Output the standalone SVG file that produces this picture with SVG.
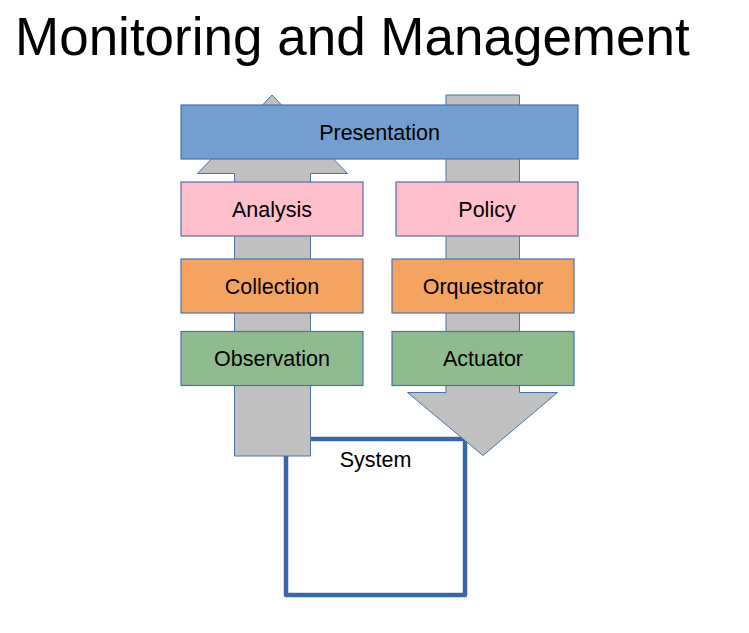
<svg xmlns="http://www.w3.org/2000/svg" width="749" height="633" viewBox="0 0 749 633">
<style>
text{font-family:"Liberation Sans",Arial,sans-serif;fill:#000}
.lbl{font-size:21.5px;text-anchor:middle}
.box{stroke:#4a72ad;stroke-width:1.2}
.arrow{fill:#c0c0c0;stroke:#4a72ad;stroke-width:1}
</style>
<rect width="749" height="633" fill="#fff"/>
<text x="15" y="55" font-size="53">Monitoring and Management</text>
<g id="system">
<rect x="286" y="439" width="179" height="156" fill="none" stroke="#3866a6" stroke-width="4.5" stroke-linejoin="round"/>
<text class="lbl" x="375.5" y="467">System</text>
</g>
<g id="connectors">
<polygon class="arrow" points="234.5,456 310.5,456 310.5,173.5 347.5,173.5 272,95 197.5,173.5 234.5,173.5"/>
<polygon class="arrow" points="446,95 519.5,95 519.5,392.5 557.5,392.5 483,455.5 407.5,392.5 446,392.5"/>
</g>
<g id="presentation">
<rect class="box" x="181" y="105" width="397" height="54" fill="#729fcf"/>
<text class="lbl" x="379.5" y="140">Presentation</text>
</g>
<g id="analysis">
<rect class="box" x="181" y="182" width="182" height="54" fill="#ffbfcc"/>
<text class="lbl" x="272" y="217">Analysis</text>
</g>
<g id="policy">
<rect class="box" x="396" y="182" width="182" height="54" fill="#ffbfcc"/>
<text class="lbl" x="487" y="217">Policy</text>
</g>
<g id="collection">
<rect class="box" x="181" y="259" width="182" height="54" fill="#f4a460"/>
<text class="lbl" x="272" y="293.5">Collection</text>
</g>
<g id="orquestrator">
<rect class="box" x="392" y="259" width="182" height="54" fill="#f4a460"/>
<text class="lbl" x="483" y="293.5">Orquestrator</text>
</g>
<g id="observation">
<rect class="box" x="181" y="331.5" width="182" height="54" fill="#8fbc8f"/>
<text class="lbl" x="272" y="366">Observation</text>
</g>
<g id="actuator">
<rect class="box" x="392" y="331.5" width="182" height="54" fill="#8fbc8f"/>
<text class="lbl" x="483" y="366">Actuator</text>
</g>
</svg>
